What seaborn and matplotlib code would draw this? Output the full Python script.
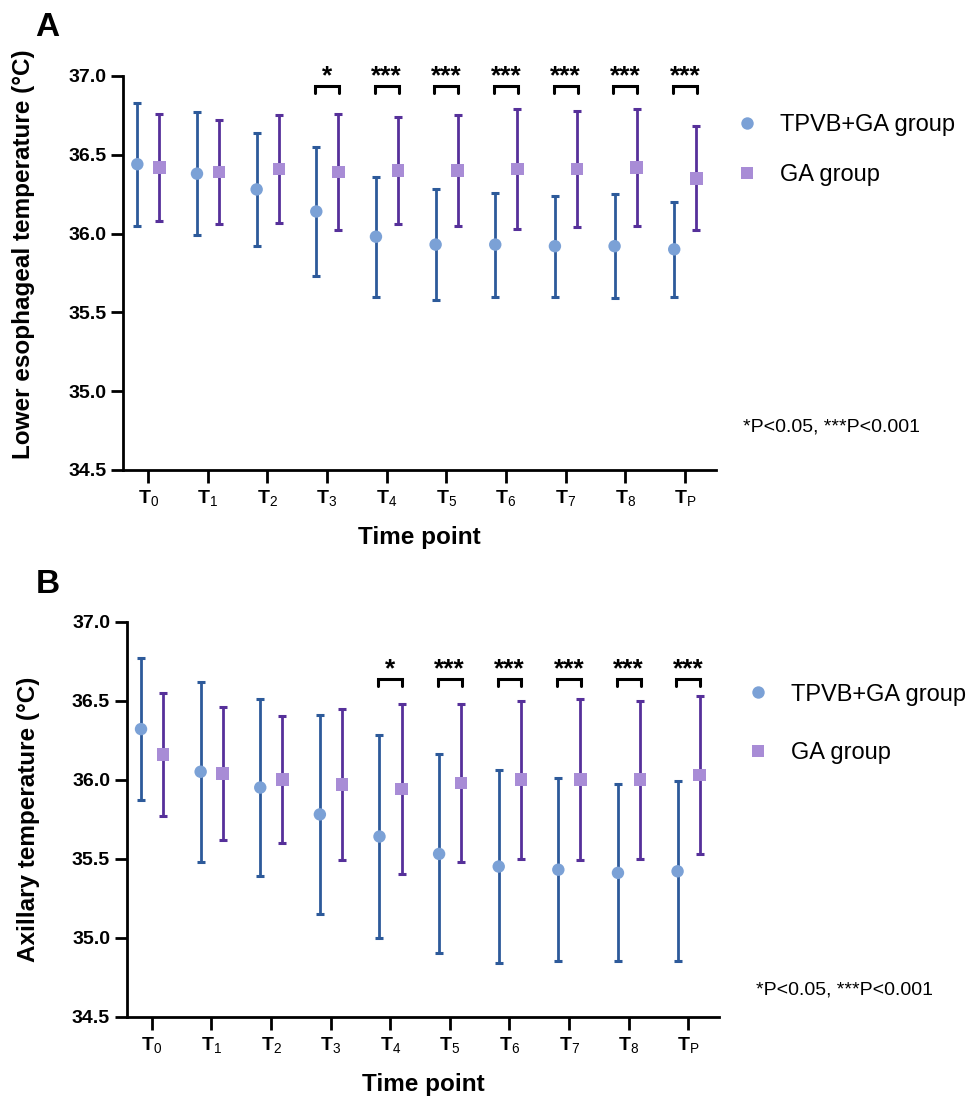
import numpy as np
import pandas as pd
import matplotlib
matplotlib.use('Agg')
import matplotlib.pyplot as plt
import seaborn as sns

# time points and groups
time_points = ['T0', 'T1', 'T2', 'T3', 'T4', 'T5', 'T6', 'T7', 'T8', 'TP']
tick_labels = [r'$\mathbf{T}_{\mathrm{0}}$', r'$\mathbf{T}_{\mathrm{1}}$', r'$\mathbf{T}_{\mathrm{2}}$',
               r'$\mathbf{T}_{\mathrm{3}}$', r'$\mathbf{T}_{\mathrm{4}}$', r'$\mathbf{T}_{\mathrm{5}}$',
               r'$\mathbf{T}_{\mathrm{6}}$', r'$\mathbf{T}_{\mathrm{7}}$', r'$\mathbf{T}_{\mathrm{8}}$',
               r'$\mathbf{T}_{\mathrm{P}}$']
groups = ['TPVB+GA group', 'GA group']

# A: lower esophageal temperature (mean, lower end, upper end)
eso_tpvb_mean = [36.44, 36.38, 36.28, 36.14, 35.98, 35.93, 35.93, 35.92, 35.92, 35.90]
eso_tpvb_low = [36.05, 35.99, 35.92, 35.73, 35.60, 35.58, 35.60, 35.60, 35.59, 35.60]
eso_tpvb_high = [36.83, 36.77, 36.64, 36.55, 36.36, 36.28, 36.26, 36.24, 36.25, 36.20]
eso_ga_mean = [36.42, 36.39, 36.41, 36.39, 36.40, 36.40, 36.41, 36.41, 36.42, 36.35]
eso_ga_low = [36.08, 36.06, 36.07, 36.02, 36.06, 36.05, 36.03, 36.04, 36.05, 36.02]
eso_ga_high = [36.76, 36.72, 36.75, 36.76, 36.74, 36.75, 36.79, 36.78, 36.79, 36.68]
eso_sig = ['', '', '', '*', '***', '***', '***', '***', '***', '***']

# B: axillary temperature
axi_tpvb_mean = [36.32, 36.05, 35.95, 35.78, 35.64, 35.53, 35.45, 35.43, 35.41, 35.42]
axi_tpvb_low = [35.87, 35.48, 35.39, 35.15, 35.00, 34.90, 34.84, 34.85, 34.85, 34.85]
axi_tpvb_high = [36.77, 36.62, 36.51, 36.41, 36.28, 36.16, 36.06, 36.01, 35.97, 35.99]
axi_ga_mean = [36.16, 36.04, 36.00, 35.97, 35.94, 35.98, 36.00, 36.00, 36.00, 36.03]
axi_ga_low = [35.77, 35.62, 35.60, 35.49, 35.40, 35.48, 35.50, 35.49, 35.50, 35.53]
axi_ga_high = [36.55, 36.46, 36.40, 36.45, 36.48, 36.48, 36.50, 36.51, 36.50, 36.53]
axi_sig = ['', '', '', '', '*', '***', '***', '***', '***', '***']

sns.set_theme(style='ticks')
plt.rcParams['font.family'] = ['Liberation Sans', 'DejaVu Sans']
plt.rcParams['mathtext.fontset'] = 'custom'
plt.rcParams['mathtext.rm'] = 'Liberation Sans'
plt.rcParams['mathtext.bf'] = 'Liberation Sans:bold'
plt.rcParams['mathtext.it'] = 'Liberation Sans:italic'
for k in ['text.color', 'axes.labelcolor', 'xtick.color', 'ytick.color', 'axes.edgecolor']:
    plt.rcParams[k] = 'black'

fill_colors = {'TPVB+GA group': '#7ba1d6', 'GA group': '#a88cd6'}
bar_colors = {'TPVB+GA group': '#2d5a9a', 'GA group': '#56309a'}
offsets = {'TPVB+GA group': -0.18, 'GA group': 0.19}


def make_df(tm, tl, th, gm, gl, gh):
    rows = []
    for i, t in enumerate(time_points):
        rows.append([t, i, groups[0], tm[i], tl[i], th[i]])
        rows.append([t, i, groups[1], gm[i], gl[i], gh[i]])
    d = pd.DataFrame(rows, columns=['time', 'idx', 'group', 'mean', 'low', 'high'])
    d['x'] = d['idx'] + d['group'].map(offsets)
    return d


def draw_panel(ax, d, sig, star_y, br_top, br_leg, ylabel, ylab_coords, leg_anchor, leg_spacing):
    for g in groups:
        sub = d[d['group'] == g]
        ax.errorbar(sub['x'], sub['mean'],
                    yerr=[sub['mean'] - sub['low'], sub['high'] - sub['mean']],
                    fmt='none', ecolor=bar_colors[g], elinewidth=2, capsize=2.7,
                    capthick=2.2, zorder=2)
    sns.scatterplot(data=d, x='x', y='mean', hue='group', style='group',
                    hue_order=groups, style_order=groups,
                    palette=fill_colors, markers={groups[0]: 'o', groups[1]: 's'},
                    s=80, linewidth=0, ax=ax, zorder=3)

    for i, s in enumerate(sig):
        if not s:
            continue
        x0, x1 = i - 0.2, i + 0.2
        ax.plot([x0, x0, x1, x1], [br_leg, br_top, br_top, br_leg], color='black',
                lw=2.2, clip_on=False, solid_joinstyle='miter')
        ax.text(i, star_y, s, ha='center', va='baseline', fontsize=19,
                fontweight='bold', clip_on=False)

    ax.set_xlim(-0.42, 9.52)
    ax.set_ylim(34.5, 37.0)
    ax.set_xticks(range(len(time_points)))
    ax.set_xticklabels(tick_labels, fontsize=14)
    ax.set_yticks([34.5, 35.0, 35.5, 36.0, 36.5, 37.0])
    ax.set_yticklabels(['%.1f' % v for v in [34.5, 35.0, 35.5, 36.0, 36.5, 37.0]],
                       fontsize=14, fontweight='bold')
    ax.tick_params(axis='both', width=2, length=9, color='black', labelcolor='black')
    ax.tick_params(axis='x', pad=4)
    ax.tick_params(axis='y', pad=3)
    sns.despine(ax=ax)
    for sp in ['left', 'bottom']:
        ax.spines[sp].set_linewidth(2)
        ax.spines[sp].set_color('black')

    ax.set_xlabel('Time point', fontsize=17.5, fontweight='bold', va='center')
    ax.xaxis.set_label_coords(0.5, -0.172)
    ax.set_ylabel(ylabel, fontsize=17.5, fontweight='bold', va='center')
    ax.yaxis.set_label_coords(*ylab_coords)

    sns.move_legend(ax, loc='center left', bbox_to_anchor=leg_anchor,
                    bbox_transform=fig.transFigure, title=None, frameon=False,
                    fontsize=17, handlelength=1.0, handletextpad=0.9,
                    labelspacing=leg_spacing, borderpad=0, borderaxespad=0,
                    markerscale=1.0, labelcolor='black')


fig = plt.figure(figsize=(9.74, 10.96), dpi=100)
axA = fig.add_axes([0.1263, 0.5712, 0.6088, 0.3595])
axB = fig.add_axes([0.1301, 0.0724, 0.6084, 0.3604])

dfA = make_df(eso_tpvb_mean, eso_tpvb_low, eso_tpvb_high, eso_ga_mean, eso_ga_low, eso_ga_high)
dfB = make_df(axi_tpvb_mean, axi_tpvb_low, axi_tpvb_high, axi_ga_mean, axi_ga_low, axi_ga_high)

draw_panel(axA, dfA, eso_sig, 36.955, 36.937, 36.89,
           'Lower esophageal temperature (°C)', (-0.167, 0.548), (0.7546, 0.863), 1.2)
draw_panel(axB, dfB, axi_sig, 36.656, 36.64, 36.59,
           'Axillary temperature (°C)', (-0.165, 0.5), (0.766, 0.3394), 1.55)

fig.text(0.7625, 0.6107, '*P<0.05, ***P<0.001', fontsize=14, va='center', ha='left')
fig.text(0.776, 0.0967, '*P<0.05, ***P<0.001', fontsize=14, va='center', ha='left')

fig.text(0.036, 1 - 36 / 1096, 'A', fontsize=24, fontweight='bold', va='baseline')
fig.text(0.037, 1 - 593 / 1096, 'B', fontsize=24, fontweight='bold', va='baseline')

plt.savefig('out.png', dpi=100)
